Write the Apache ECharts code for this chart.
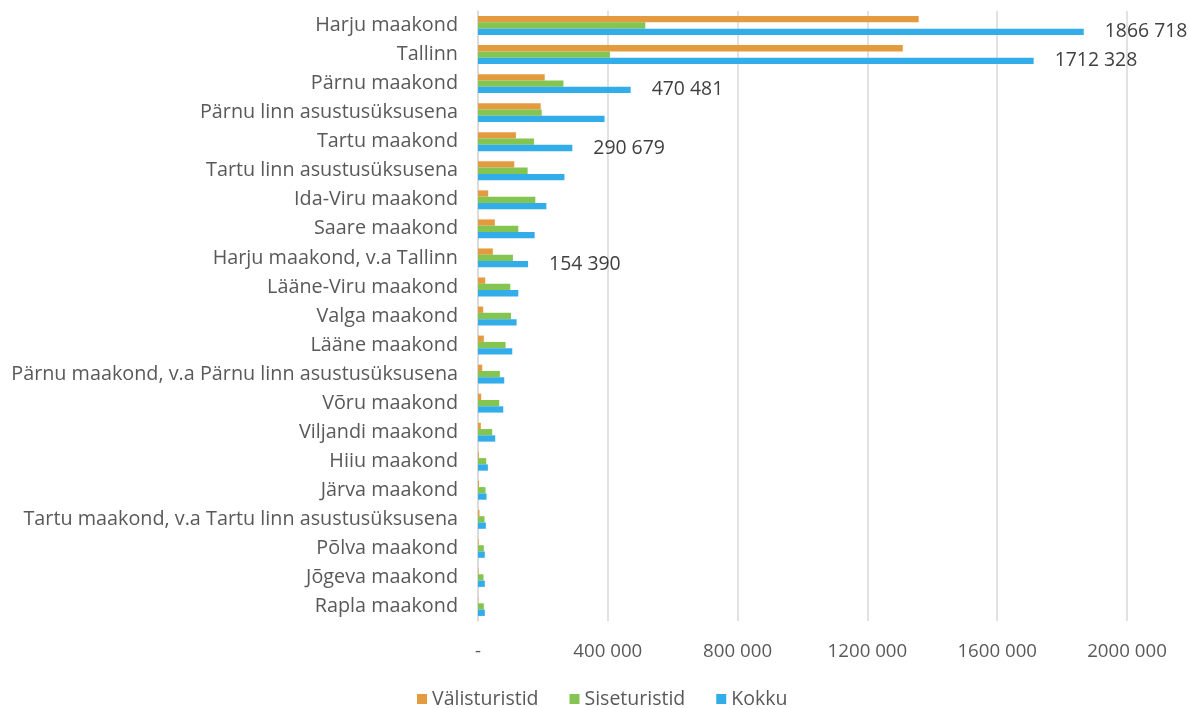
<!DOCTYPE html>
<html>
<head>
<meta charset="utf-8">
<script src="https://cdn.jsdelivr.net/npm/echarts@6/dist/echarts.min.js"></script>
<style>html,body{margin:0;padding:0;background:#fff}#c{width:1189px;height:708px}</style>
</head>
<body>
<div id="c"></div>
<script>
const categories = [
  "Harju maakond", "Tallinn", "Pärnu maakond", "Pärnu linn asustusüksusena",
  "Tartu maakond", "Tartu linn asustusüksusena", "Ida-Viru maakond", "Saare maakond",
  "Harju maakond, v.a Tallinn", "Lääne-Viru maakond", "Valga maakond", "Lääne maakond",
  "Pärnu maakond, v.a Pärnu linn asustusüksusena", "Võru maakond", "Viljandi maakond",
  "Hiiu maakond", "Järva maakond", "Tartu maakond, v.a Tartu linn asustusüksusena",
  "Põlva maakond", "Jõgeva maakond", "Rapla maakond"
];
const valisturistid = [1358000, 1309000, 205600, 193200, 116900, 111800, 31500, 52000, 45800, 22200, 16000, 18000, 13000, 9900, 8800, 2500, 3000, 4600, 2000, 1500, 1000];
const siseturistid = [515600, 406500, 263300, 196300, 172600, 153000, 176700, 124200, 107600, 99500, 101500, 85000, 67400, 65400, 43800, 25300, 23200, 20100, 18000, 17000, 18000];
const kokku = [1866718, 1712328, 470481, 390000, 290679, 266400, 210700, 174600, 154390, 124200, 119000, 105600, 80900, 77800, 53100, 30400, 26300, 24200, 21000, 21000, 21000];
const labelledKokku = ["Harju maakond", "Tallinn", "Pärnu maakond", "Tartu maakond", "Harju maakond, v.a Tallinn"];
const xTicks = [0, 400000, 800000, 1200000, 1600000, 2000000];

function fmt(v) {
  if (v === 0) return "-";
  const th = Math.floor(v / 1000), r = v % 1000;
  return th > 0 ? th + " " + String(r).padStart(3, "0") : String(r);
}

const FONT = "Open Sans";
const chart = echarts.init(document.getElementById("c"), null, {renderer: "canvas"});
const barW = 6.3;
chart.setOption({
  animation: false,
  textStyle: {fontFamily: FONT},
  legend: {
    top: 689, left: 417, padding: 0,
    itemWidth: 10, itemHeight: 10, itemGap: 31,
    icon: "rect",
    textStyle: {fontSize: 19.5, lineHeight: 20, color: "#595959", fontFamily: FONT}
  },
  grid: {left: 478, right: 62, top: 11, bottom: 87, containLabel: false},
  xAxis: {
    type: "value", min: 0, max: 2000000, interval: 400000,
    axisLine: {show: false}, axisTick: {show: false},
    splitLine: {lineStyle: {color: "#D9D9D9", width: 1.5}},
    axisLabel: {formatter: fmt, color: "#595959", fontSize: 18.7, margin: 21, fontFamily: FONT}
  },
  yAxis: {
    type: "category", data: categories, inverse: true,
    axisLine: {lineStyle: {color: "#D9D9D9", width: 1.5}},
    axisTick: {show: false},
    axisLabel: {color: "#595959", fontSize: 19.8, margin: 20, fontFamily: FONT}
  },
  series: [
    {name: "Välisturistid", type: "bar", data: valisturistid, barWidth: barW, barGap: "0%",
     itemStyle: {color: "#E49B3F"}},
    {name: "Siseturistid", type: "bar", data: siseturistid, barWidth: barW, barGap: "0%",
     itemStyle: {color: "#84C451"}},
    {name: "Kokku", type: "bar", barWidth: barW, barGap: "0%",
     itemStyle: {color: "#33ACEA"},
     data: kokku.map((v, i) => ({
       value: v,
       label: {show: labelledKokku.includes(categories[i])}
     })),
     label: {position: "right", distance: 21, fontSize: 19.4, color: "#404040",
             fontFamily: FONT, formatter: p => fmt(p.value)}
    }
  ]
});
</script>
</body>
</html>
